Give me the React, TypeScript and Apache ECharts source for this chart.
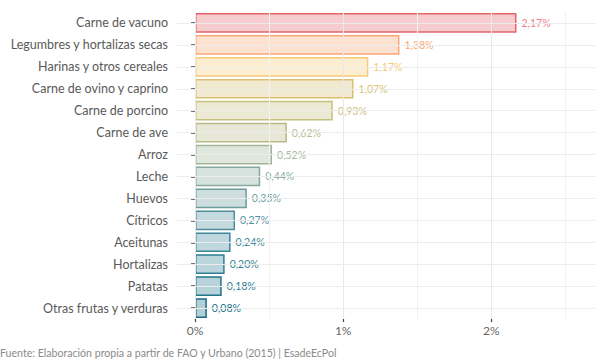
import React, { useEffect, useRef } from "react";
import * as echarts from "echarts";

const categories = [
  "Carne de vacuno",
  "Legumbres y hortalizas secas",
  "Harinas y otros cereales",
  "Carne de ovino y caprino",
  "Carne de porcino",
  "Carne de ave",
  "Arroz",
  "Leche",
  "Huevos",
  "Cítricos",
  "Aceitunas",
  "Hortalizas",
  "Patatas",
  "Otras frutas y verduras",
];

const values = [2.17, 1.38, 1.17, 1.07, 0.93, 0.62, 0.52, 0.44, 0.35, 0.27, 0.24, 0.2, 0.18, 0.08];

const borderColors = [
  "#e6646e",
  "#f9a675",
  "#f8ca74",
  "#d9c070",
  "#c6c07e",
  "#b5ba86",
  "#a2b697",
  "#86a99c",
  "#6a9c9c",
  "#4f8e9c",
  "#3c869a",
  "#2e7e93",
  "#23758c",
  "#1b6b84",
];

const labelColors = [
  "#f07f87",
  "#f9a676",
  "#f3c873",
  "#dac276",
  "#c9c386",
  "#b9bd8c",
  "#a6b99b",
  "#8aac9f",
  "#6e9f9f",
  "#53919f",
  "#42899c",
  "#358396",
  "#2b7b91",
  "#23728a",
];

const xTickValues = [0, 1, 2];
const xGridMajor = [0, 1, 2];
const xGridMinor = [0.5, 1.5, 2.5];
const caption = "Fuente: Elaboración propia a partir de FAO y Urbano (2015) | EsadeEcPol";

function hexToRgba(hex: string, a: number) {
  const r = parseInt(hex.slice(1, 3), 16);
  const g = parseInt(hex.slice(3, 5), 16);
  const b = parseInt(hex.slice(5, 7), 16);
  return `rgba(${r},${g},${b},${a})`;
}

export default function App() {
  const ref = useRef<HTMLDivElement>(null);
  useEffect(() => {
    if (!ref.current) return;
    const chart = echarts.init(ref.current, null, { renderer: "svg" });
    const font = "Lato";
    chart.setOption({
      animation: false,
      textStyle: { fontFamily: font },
      grid: { left: 177, right: 5, top: 12, bottom: 42, containLabel: false },
      xAxis: {
        type: "value",
        min: -0.1216,
        max: 2.7,
        axisLine: { show: false },
        splitLine: { show: false },
        axisTick: {
          show: true,
          length: 3,
          customValues: xTickValues,
          lineStyle: { color: "#444", width: 1.2 },
        },
        axisLabel: {
          customValues: xTickValues,
          formatter: (v: number) => `${Math.round(v)}%`,
          color: "#666",
          fontSize: 12,
          fontFamily: font,
          margin: 5,
        },
      },
      yAxis: {
        type: "category",
        inverse: true,
        data: categories,
        axisLine: { show: false },
        splitLine: { show: false },
        axisTick: {
          show: true,
          alignWithLabel: true,
          length: 4,
          lineStyle: { color: "#444", width: 1.5 },
        },
        axisLabel: { color: "#5a5a5a", fontSize: 12.5, fontFamily: font, margin: 9 },
      },
      series: [
        {
          type: "line",
          data: [],
          z: 0,
          silent: true,
          markLine: {
            silent: true,
            symbol: "none",
            label: { show: false },
            animation: false,
            data: [
              ...xGridMajor.map((v) => ({ xAxis: v, lineStyle: { color: "#e9e9e9", width: 1, type: "solid" } })),
              ...xGridMinor.map((v) => ({ xAxis: v, lineStyle: { color: "#f2f2f2", width: 1, type: "solid" } })),
              ...categories.map((_, i) => ({ yAxis: i, lineStyle: { color: "#ececec", width: 1, type: "solid" } })),
            ],
          },
        },
        {
          type: "bar",
          z: 2,
          barWidth: "90%",
          data: values.map((v, i) => ({
            value: v,
            itemStyle: {
              color: hexToRgba(borderColors[i], 0.33),
              borderColor: borderColors[i],
              borderWidth: 1.5,
            },
            label: { color: labelColors[i] },
          })),
          label: {
            show: true,
            position: "right",
            distance: 5,
            fontSize: 10.5,
            fontFamily: font,
            formatter: (p: any) => `${p.value.toFixed(2).replace(".", ",")}%`,
          },
        },
      ],
      graphic: [
        {
          type: "text",
          left: 0,
          top: 347,
          style: { text: caption, fill: "#8a8a8a", fontSize: 10.6, fontFamily: font },
        },
      ],
    });
    return () => chart.dispose();
  }, []);
  return (
    <div
      ref={ref}
      style={{ position: "absolute", left: 0, top: 0, width: 600, height: 361 }}
    />
  );
}
